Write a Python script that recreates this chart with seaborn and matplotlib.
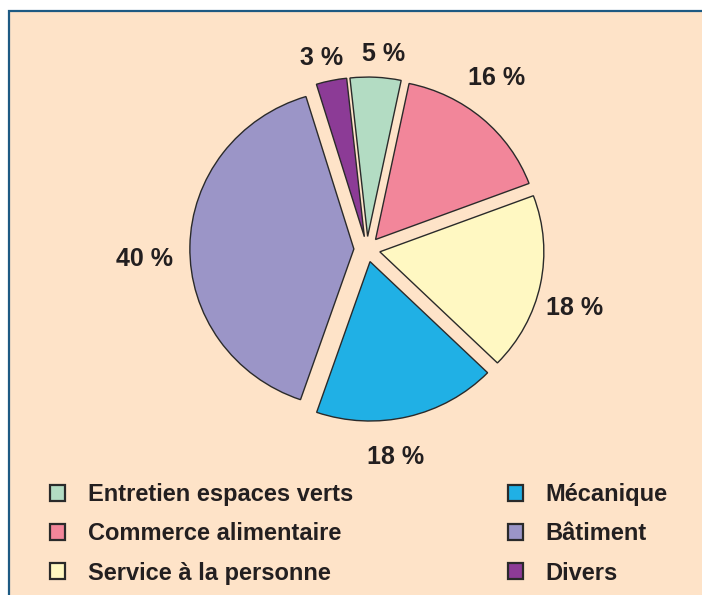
import numpy as np
import matplotlib
matplotlib.use("Agg")
import matplotlib.pyplot as plt
from matplotlib.patches import Rectangle
import seaborn as sns

# sectors of the pie, clockwise from the top
sectors = ["Entretien espaces verts", "Commerce alimentaire", "Service à la personne",
           "Mécanique", "Bâtiment", "Divers"]
shares = [5, 16, 18, 18, 40, 3]
share_labels = ["5 %", "16 %", "18 %", "18 %", "40 %", "3 %"]

colors = ["#b3dcc3", "#f2869a", "#fff8c2", "#20b0e5", "#9b95c7", "#8c3b96"]
# label placement: distance (in radii) and angle shift from the wedge middle
label_dist = [1.19, 1.30, 1.31, 1.27, 1.35, 1.19]
label_shift = [-1.9, 3.4, -4.0, -5.7, 3.6, 1.7]

sns.set_theme(style="white")
plt.rcParams['font.family'] = ['Liberation Sans', 'DejaVu Sans']

W, H = 702, 595
fig = plt.figure(figsize=(W / 100, H / 100), dpi=100)
fig.patch.set_facecolor("white")

# peach panel, blue frame on top and left
panel = Rectangle((8.5 / W, -0.1), 1.2, (H - 10.5) / H + 0.1, transform=fig.transFigure,
                  facecolor="#fee3c8", edgecolor="#1d5a83", lw=1.6, zorder=0)
fig.add_artist(panel)

# axes over the whole figure; the original pie is a little flatter than round
Rx, Ry = 164, 159.4
cx, cy = 367, 249.2
ax = fig.add_axes([0, 0, 1, 1])
ax.set_facecolor("none")

wedges, _ = ax.pie(shares, colors=colors, startangle=96.2, counterclock=False,
                   explode=[0.08] * len(shares),
                   wedgeprops=dict(edgecolor="#2a2a2a", linewidth=1.0))
ax.set_aspect("auto")
ax.set_xlim(-cx / Rx, (W - cx) / Rx)
ax.set_ylim(-(H - cy) / Ry, cy / Ry)
ax.set_axis_off()

R_lab = 165
for w, lab, d, s in zip(wedges, share_labels, label_dist, label_shift):
    mid = np.deg2rad((w.theta1 + w.theta2) / 2 + s)
    ax.annotate(lab, xy=(0, 0), xytext=(d * R_lab * np.cos(mid), d * R_lab * np.sin(mid)),
                textcoords="offset pixels", ha="center", va="center",
                fontsize=18, fontweight="bold", color="#231f20")

# legend in two columns
leg_kw = dict(loc="upper left", frameon=False, handlelength=0.64,
              handleheight=0.64, handletextpad=0.95, labelspacing=0.69,
              borderpad=0, borderaxespad=0,
              prop=dict(weight="bold", size=17))
leg1 = fig.legend(handles=wedges[:3], labels=sectors[:3],
                  bbox_to_anchor=(50 / W, 1 - 483 / H), **leg_kw)
leg2 = fig.legend(handles=wedges[3:], labels=sectors[3:],
                  bbox_to_anchor=(508 / W, 1 - 483 / H), **leg_kw)
for leg in (leg1, leg2):
    for t in leg.get_texts():
        t.set_color("#231f20")
    for h in leg.legend_handles:
        h.set_linewidth(1.6)

fig.savefig("out.png", dpi=100)
